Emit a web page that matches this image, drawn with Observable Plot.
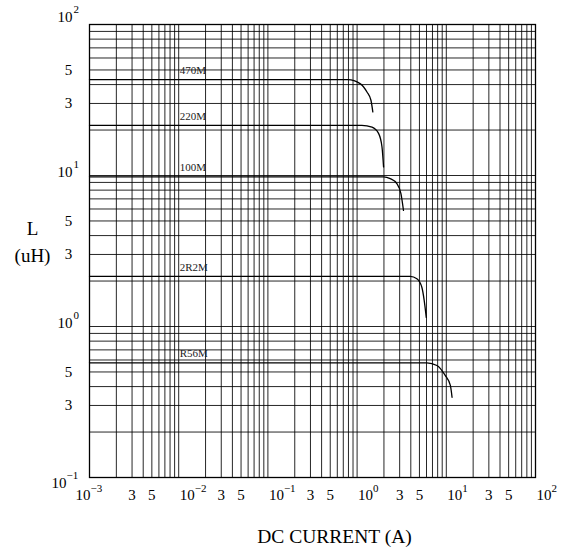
<!DOCTYPE html>
<html>
<head>
<meta charset="utf-8">
<script src="https://cdn.jsdelivr.net/npm/d3@7"></script>
<script src="https://cdn.jsdelivr.net/npm/@observablehq/plot@0.6"></script>
<style>
  html, body { margin: 0; padding: 0; background: white; }
</style>
</head>
<body>
<div id="chart"></div>
<script>
// ---- Data ----
const seriesNames = ["470M", "220M", "100M", "2R2M", "R56M"];
const current470 = [0.001, 0.79, 1.08, 1.29, 1.43, 1.50];
const induct470  = [43.1, 43.1, 40.6, 35.7, 31.5, 26.4];
const current220 = [0.001, 1.13, 1.47, 1.74, 1.90, 1.98];
const induct220  = [21.5, 21.5, 20.9, 19.0, 15.5, 11.4];
const current100 = [0.001, 1.98, 2.35, 2.79, 3.10, 3.31];
const induct100  = [9.8, 9.8, 9.54, 8.84, 7.59, 5.88];
const current2R2 = [0.001, 3.94, 4.68, 5.32, 5.65, 5.96];
const induct2R2  = [2.15, 2.15, 2.07, 1.82, 1.49, 1.15];
const currentR56 = [0.001, 6.06, 7.85, 9.72, 11.1, 11.6];
const inductR56  = [0.575, 0.575, 0.552, 0.474, 0.407, 0.340];

// tick labels
const xDecades = [1e-3, 1e-2, 1e-1, 1, 10, 100];
const xDecadeExp = ["\u22123", "\u22122", "\u22121", "0", "1", "2"];
const xMinorTicks = [3e-3, 5e-3, 3e-2, 5e-2, 3e-1, 5e-1, 3, 5, 30, 50];
const xMinorLabels = ["3", "5", "3", "5", "3", "5", "3", "5", "3", "5"];
const yDecades = [100, 10, 1, 0.1];
const yDecadeExp = ["2", "1", "0", "\u22121"];
const yMinorTicks = [50, 30, 5, 3, 0.5, 0.3];
const yMinorLabels = ["5", "3", "5", "3", "5", "3"];
const gridMultipliers = [1, 2, 3, 4, 5, 6, 7, 8, 9];
const xGridDecades = [1e-3, 1e-2, 1e-1, 1, 10];
const yGridDecades = [0.1, 1, 10];

// ---- Build tables ----
const currents = [current470, current220, current100, current2R2, currentR56];
const inducts = [induct470, induct220, induct100, induct2R2, inductR56];
const rows = seriesNames.flatMap((name, i) =>
  currents[i].map((c, j) => ({series: name, I: c, L: inducts[i][j]})));
const labelRows = seriesNames.map((name, i) => ({series: name, L: inducts[i][0]}));
const xGrid = xGridDecades.flatMap(d => gridMultipliers.map(m => +(m * d).toPrecision(3))).concat([100]);
const yGrid = yGridDecades.flatMap(d => gridMultipliers.map(m => +(m * d).toPrecision(3))).concat([100]);

const xDec = xDecades.map((v, i) => ({v, e: xDecadeExp[i], i}));
const yDec = yDecades.map((v, i) => ({v, e: yDecadeExp[i], i}));
const xMin = xMinorTicks.map((v, i) => ({v, t: xMinorLabels[i]}));
const yMin = yMinorTicks.map((v, i) => ({v, t: yMinorLabels[i]}));

const serif = "'Liberation Serif', 'Times New Roman', Times, serif";
const TICK = 15, SUP = 11;

// y decade label vertical nudges (top label raised, bottom label lowered)
const yDecDy = [-7, -3, -3, 6];
const yDecMarks = yDec.flatMap(d => {
  const neg = d.e.startsWith("\u2212");
  return [
    Plot.text([d], {y: "v", frameAnchor: "left", text: () => "10", textAnchor: "end",
      dx: neg ? -23 : -17, dy: yDecDy[d.i], fontSize: TICK}),
    Plot.text([d], {y: "v", frameAnchor: "left", text: "e", textAnchor: "start",
      dx: neg ? -23 : -16, dy: yDecDy[d.i] - 8, fontSize: SUP})
  ];
});

const xDecMarks = xDec.flatMap(d => {
  const first = d.i === 0;
  return [
    Plot.text([d], {x: "v", frameAnchor: "bottom", text: () => "10", textAnchor: "start",
      dx: first ? -14 : 1, dy: 22, fontSize: TICK}),
    Plot.text([d], {x: "v", frameAnchor: "bottom", text: "e", textAnchor: "start",
      dx: first ? 1 : 16, dy: 14, fontSize: SUP})
  ];
});

const chart = Plot.plot({
  width: 565,
  height: 555,
  marginLeft: 89,
  marginRight: 30,
  marginTop: 24,
  marginBottom: 78,
  x: {type: "log", domain: [1e-3, 1e2], axis: null},
  y: {type: "log", domain: [0.1, 100], axis: null},
  style: {fontFamily: serif, background: "white", color: "black"},
  marks: [
    Plot.ruleX(xGrid, {stroke: "#000", strokeWidth: 1, strokeOpacity: 0.85}),
    Plot.ruleY(yGrid, {stroke: "#000", strokeWidth: 1, strokeOpacity: 0.85}),
    Plot.frame({stroke: "#000", strokeWidth: 1.3}),
    Plot.line(rows, {x: "I", y: "L", z: "series", stroke: "#000", strokeWidth: 1.3, curve: "monotone-x"}),
    Plot.text(labelRows, {x: () => 0.01, y: "L", text: "series", textAnchor: "start",
      dx: 1, dy: -9, fontSize: 11, fill: "#222"}),
    ...yDecMarks,
    Plot.text(yMin, {y: "v", frameAnchor: "left", text: "t", textAnchor: "middle", dx: -21, fontSize: TICK}),
    ...xDecMarks,
    Plot.text(xMin, {x: "v", frameAnchor: "bottom", text: "t", textAnchor: "middle", dy: 22, fontSize: TICK}),
    Plot.text(["L\n(uH)"], {frameAnchor: "left", text: d => d, textAnchor: "middle", dx: -57, dy: -11,
      fontSize: 19, lineHeight: 1.42}),
    Plot.text(["DC CURRENT (A)"], {frameAnchor: "bottom", text: d => d, textAnchor: "middle", dx: 22, dy: 65, fontSize: 19.5})
  ]
});
document.getElementById("chart").appendChild(chart);
</script>
</body>
</html>
